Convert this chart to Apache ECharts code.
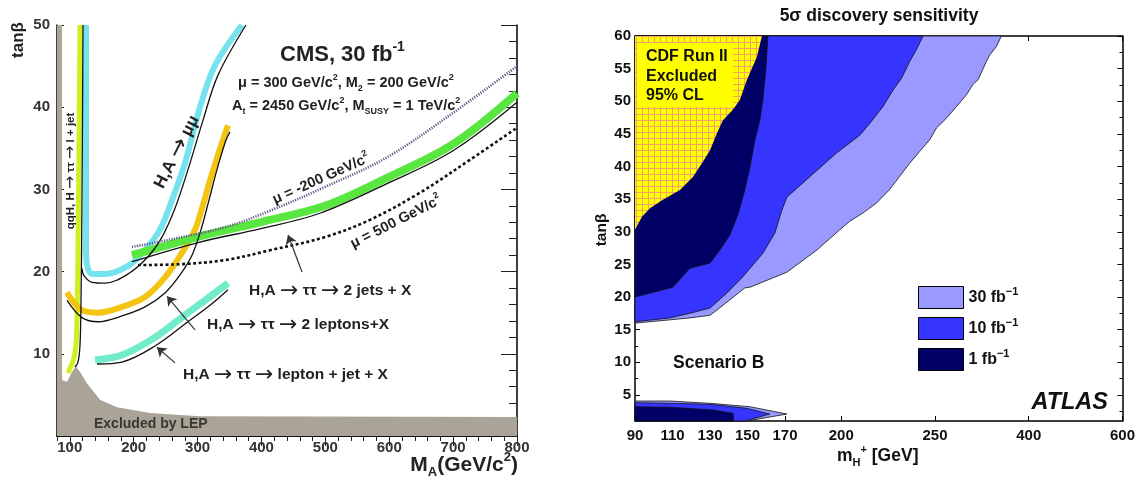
<!DOCTYPE html>
<html><head><meta charset="utf-8">
<script src="https://cdn.jsdelivr.net/npm/echarts@6/dist/echarts.min.js"></script>
<style>html,body{margin:0;padding:0;background:#fff}#c{width:1138px;height:481px}</style>
</head><body><div id="c"></div>
<script>
// ================= LEFT PANEL (CMS) : [M_A, tanBeta] =================
const lepM = [80, 87.8, 87.8, 95.7, 103.5, 109.7, 116, 127, 147.3, 173.9, 225.6, 303.8, 800];
const lepT = [50, 50, 6.8, 6.6, 7.8, 8.5, 7.8, 6.4, 4.4, 3.5, 2.8, 2.4, 2.3];
const qqhM = [97.2, 101.9, 106.6, 109.7, 111.3, 112.9, 114.4, 116.0];
const qqhT = [7.66, 8.52, 9.49, 11.07, 14.1, 22.6, 34.8, 50];
const qqhBM = [108.2, 112.9, 116.0, 117.6, 119.1, 120.7];
const qqhBT = [8.39, 9.0, 11.07, 16.5, 28.7, 50];
const mumuM = [125.4, 125.4, 127.0, 134.8, 155.1, 191.1, 217.7, 241.2, 260.0, 280.3, 303.8, 327.3, 369.6];
const mumuT = [50, 22.6, 20.8, 19.7, 19.7, 20.7, 22.6, 25.1, 28.7, 33.2, 40.0, 45.1, 50];
const mumuBM = [119.1, 122.3, 134.8, 155.1, 191.1, 222.4, 244.3, 264.7, 285.0, 308.5, 332.0, 375.8];
const mumuBT = [20.4, 19.5, 18.7, 18.6, 19.7, 21.8, 24.2, 27.7, 32.4, 38.4, 43.9, 50];
const llM = [95.7, 106.6, 119.1, 144.2, 181.7, 217.7, 249.0, 275.7, 296.0, 308.5, 319.5, 332.0, 347.6];
const llT = [17.5, 16.2, 15.3, 15.0, 15.7, 16.9, 19.3, 22.3, 25.1, 28.1, 31.1, 34.2, 37.8];
const llBM = [95.7, 119.1, 144.2, 181.7, 217.7, 249.0, 272.5, 291.3, 305.4, 317.9, 330.4, 344.5, 350.8];
const llBT = [16.5, 14.4, 13.9, 14.6, 15.7, 17.4, 19.6, 22.0, 25.1, 28.7, 32.4, 36.0, 37.0];
const ljM = [139.5, 181.7, 233.4, 285.0, 311.6, 347.6];
const ljT = [9.25, 9.85, 12.0, 15.0, 16.5, 18.6];
const ljBM = [142.6, 181.7, 233.4, 285.0, 319.5, 347.6];
const ljBT = [8.76, 9.0, 10.95, 13.9, 15.9, 17.8];
const jjM = [197.4, 303.8, 397.7, 499.5, 596.5, 699.8, 800];
const jjT = [22.0, 24.3, 26.0, 28.0, 31.4, 35.5, 41.7];
const jjBM = [197.4, 303.8, 397.7, 491.6, 596.5, 699.8, 800];
const jjBT = [21.2, 23.6, 25.2, 27.1, 30.7, 34.7, 40.6];
const muNegM = [197.4, 238.1, 343.0, 416.5, 499.5, 596.5, 699.8, 800];
const muNegT = [23.0, 23.6, 25.4, 27.5, 30.3, 33.9, 39.3, 45.0];
const mu500M = [206.8, 272.5, 343.0, 413.4, 499.5, 569.9, 648.2, 726.4, 800];
const mu500T = [20.8, 20.9, 21.4, 22.6, 24.2, 26.3, 29.6, 33.6, 37.5];
const leftXLabels = [100, 200, 300, 400, 500, 600, 700, 800];

// ================= RIGHT PANEL (ATLAS) : [m_H+, tanBeta] =================
const r30UpM = [356.2, 348.4, 337.6, 332.2, 319, 310.9, 300.4, 284.5, 268.3, 252.4, 247.2, 241.8, 236.5, 231.2, 225.9, 218.8, 211.7, 204.5, 199.2, 187.0, 171.0, 151.3, 148.6, 133.7, 130.0, 119.3, 108.6, 90, 90];
const r30UpT = [60, 58.4, 57.1, 56.1, 53.3, 52.6, 51.0, 49.2, 47.4, 45.9, 44.1, 42.3, 40.5, 38.5, 36.5, 34.4, 32.9, 31.6, 30.3, 27.2, 23.8, 21.5, 21.4, 18.0, 17.2, 16.8, 16.5, 16.0, 60];
const r30LoM = [90, 108.6, 130, 151.3, 171, 149.7, 90];
const r30LoT = [4.06, 4.06, 3.71, 3.19, 2.07, 1.0, 1.0];
const r10UpM = [243.6, 240.1, 236.5, 232.1, 227.6, 222.3, 215.2, 209.9, 204.5, 197.6, 171, 168.3, 164.6, 158.2, 147.5, 139, 130, 119.3, 108.6, 90, 90];
const r10UpT = [60, 57.9, 56.1, 53.5, 51.7, 49.2, 46.6, 44.8, 43.6, 42.1, 35.3, 33.3, 29.8, 26.7, 23.1, 20.6, 18.3, 17.5, 16.8, 16.2, 60];
const r10LoM = [90, 110.2, 130, 149.7, 161.9, 148.6, 90];
const r10LoT = [3.8, 3.71, 3.55, 2.94, 2.07, 1.0, 1.0];
const r1UpM = [160.9, 159.8, 158.2, 156.6, 154.0, 151.3, 148.6, 144.9, 140.6, 135.3, 130, 119.3, 110.2, 90, 90];
const r1UpT = [60, 54.8, 50.2, 47.1, 44.1, 39.9, 36.4, 32.6, 29.5, 27.2, 25.2, 24.4, 21.5, 20, 60];
const r1LoM = [90, 108.6, 131.6, 142.2, 142.7, 90];
const r1LoT = [3.19, 3.1, 2.7, 2.2, 1.0, 1.0];
const cdfM = [90, 93.7, 98.0, 104.9, 114.0, 120.9, 125.7, 130.0, 133.7, 136.9, 142.2, 145.9, 149.7, 155.0, 157.7, 90];
const cdfT = [30.3, 32.3, 33.6, 34.9, 36.4, 38.4, 40.5, 42.5, 45.1, 47.1, 48.7, 50.2, 53.3, 56.8, 60, 60];
const rightXLabels = [90, 110, 130, 150, 170, 200, 250, 400, 600];
const rightYLabels = [5, 10, 15, 20, 25, 30, 35, 40, 45, 50, 55, 60];

// piecewise mass scale of the ATLAS x axis
function ax(m) { return m <= 250 ? m : (m <= 400 ? 250 + (m - 250) / 3 : 300 + (m - 400) / 4); }
function axInv(a) { return a <= 250 ? a : (a <= 300 ? 250 + (a - 250) * 3 : 400 + (a - 300) * 4); }

const FF = '"Liberation Sans", Arial, Helvetica, sans-serif';
const FA = '"DejaVu Sans", sans-serif';
const pairs = (xs, ys) => xs.map((x, i) => [x, ys[i]]);

function richG(size, c) {
  const s2 = Math.round(size * 0.64);
  const lh = Math.round(size * 1.35);
  return {
    b: {fontSize: size, fontWeight: 'bold', fontFamily: FF, fill: c, lineHeight: lh, verticalAlign: 'middle'},
    s: {fontSize: s2, fontWeight: 'bold', fontFamily: FF, fill: c, lineHeight: s2, verticalAlign: 'top'},
    d: {fontSize: s2, fontWeight: 'bold', fontFamily: FF, fill: c, lineHeight: s2, verticalAlign: 'bottom'},
    m: {fontSize: s2, fontWeight: 'bold', fontFamily: FF, fill: c, lineHeight: Math.round(size * 0.9), verticalAlign: 'top'},
    a: {fontSize: Math.round(size * 1.4), fontWeight: 'normal', fontFamily: FA, fill: c, lineHeight: lh, verticalAlign: 'middle'}
  };
}
function txt(x, y, text, size, o) {
  o = o || {};
  const c = o.c || '#111';
  return {type: 'text', x: x, y: y, rotation: o.rot || 0, z: 100, silent: true,
    style: {text: text, fontSize: size, fontWeight: 'bold', fontStyle: o.it ? 'italic' : 'normal', fontFamily: FF, fill: c,
      align: o.al || 'left', verticalAlign: 'middle', textAlign: o.al || 'left', textVerticalAlign: 'middle',
      rich: o.rich ? richG(size, c) : undefined}};
}

// hatch pattern for CDF excluded region
const hatch = document.createElement('canvas');
hatch.width = 6; hatch.height = 6;
(function () {
  const g = hatch.getContext('2d');
  g.fillStyle = '#ffff00'; g.fillRect(0, 0, 6, 6);
  g.fillStyle = '#f3a06a'; g.fillRect(0, 0, 6, 1); g.fillRect(0, 0, 1, 6);
})();

function lineS(name, xs, ys, color, width, extra) {
  return Object.assign({type: 'line', name: name, xAxisIndex: 0, yAxisIndex: 0, data: pairs(xs, ys),
    showSymbol: false, symbol: 'none', smooth: 0.35, silent: true,
    lineStyle: {color: color, width: width}}, extra || {});
}

function polySeries(name, polys, fill, stroke) {
  return {type: 'custom', name: name, xAxisIndex: 3, yAxisIndex: 3, silent: true,
    itemStyle: {color: fill, borderColor: '#000', borderWidth: 1},
    data: polys.map((p, i) => [100, 30, i]),
    encode: {x: 0, y: 1},
    renderItem: function (params, api) {
      const p = polys[api.value(2)];
      const pts = p.m.map((m, k) => api.coord([ax(m), p.t[k]]));
      return {type: 'polygon', shape: {points: pts},
        style: {fill: name === 'cdf' ? {image: hatch, repeat: 'repeat'} : fill, stroke: stroke, lineWidth: 0.8}};
    }};
}

const axLineL = {show: true, lineStyle: {color: '#000', width: 1.5}};
const lblL = {color: '#333', fontWeight: 'bold', fontSize: 15, fontFamily: FF};
const lblR = {color: '#111', fontWeight: 'bold', fontSize: 15, fontFamily: FF};
const noSplit = {show: false};

const arrowEnd = c => ({coord: c, symbol: 'arrow', symbolSize: 9});
const arrowStart = c => ({coord: c, symbol: 'none', symbolSize: 0});

const option = {
  animation: false,
  backgroundColor: '#fff',
  grid: [
    {left: 57, top: 25, width: 460, height: 411},
    {left: 635, top: 36, width: 488, height: 385}
  ],
  xAxis: [
    {gridIndex: 0, type: 'value', min: 80, max: 800, interval: 20, position: 'bottom', axisLine: axLineL,
      axisTick: {show: true, inside: false, length: 3, lineStyle: {color: '#333'}},
      axisLabel: Object.assign({margin: 4, formatter: v => leftXLabels.indexOf(v) >= 0 ? String(v) : ''}, lblL), splitLine: noSplit},
    {gridIndex: 0, type: 'value', min: 80, max: 800, interval: 20, position: 'top', axisLine: axLineL,
      axisTick: {show: true, inside: true, length: 5, lineStyle: {color: '#222'}}, axisLabel: {show: false}, splitLine: noSplit},
    {gridIndex: 0, type: 'value', min: 80, max: 800, position: 'top', axisLine: {show: false},
      axisTick: {show: true, inside: true, length: 10, customValues: leftXLabels, lineStyle: {color: '#222'}},
      axisLabel: {show: false, customValues: leftXLabels}, splitLine: noSplit},
    {gridIndex: 1, type: 'value', min: 90, max: 350, position: 'bottom', axisLine: axLineL,
      axisTick: {show: true, inside: true, length: 5, customValues: rightXLabels.map(ax), lineStyle: {color: '#000'}},
      axisLabel: Object.assign({margin: 7, customValues: rightXLabels.map(ax), formatter: v => String(Math.round(axInv(v)))}, lblR), splitLine: noSplit},
    {gridIndex: 1, type: 'value', min: 90, max: 350, position: 'top', axisLine: axLineL,
      axisTick: {show: true, inside: true, length: 5, customValues: rightXLabels.map(ax), lineStyle: {color: '#000'}},
      axisLabel: {show: false, customValues: rightXLabels.map(ax)}, splitLine: noSplit}
  ],
  yAxis: [
    {gridIndex: 0, type: 'value', min: 0, max: 50, interval: 10, position: 'left', axisLine: axLineL,
      axisTick: {show: true, inside: true, length: 7, lineStyle: {color: '#222'}},
      axisLabel: Object.assign({margin: 7, showMinLabel: false, formatter: v => v === 0 ? '' : String(v)}, lblL), splitLine: noSplit},
    {gridIndex: 0, type: 'value', min: 0, max: 50, interval: 2, position: 'right', axisLine: axLineL,
      axisTick: {show: true, inside: true, length: 8, lineStyle: {color: '#222'}}, axisLabel: {show: false}, splitLine: noSplit},
    {gridIndex: 0, type: 'value', min: 0, max: 50, interval: 10, position: 'right', axisLine: {show: false},
      axisTick: {show: true, inside: true, length: 16, lineStyle: {color: '#222'}}, axisLabel: {show: false}, splitLine: noSplit},
    {gridIndex: 1, type: 'value', min: 1, max: 60, position: 'left', axisLine: axLineL,
      axisTick: {show: true, inside: true, length: 5, customValues: rightYLabels, lineStyle: {color: '#000'}},
      axisLabel: Object.assign({margin: 4, customValues: rightYLabels}, lblR), splitLine: noSplit},
    {gridIndex: 1, type: 'value', min: 1, max: 60, position: 'left', axisLine: {show: false},
      axisTick: {show: true, inside: true, length: 3, customValues: rightYLabels.map(v => v - 2.5), lineStyle: {color: '#000'}},
      axisLabel: {show: false, customValues: rightYLabels.map(v => v - 2.5)}, splitLine: noSplit},
    {gridIndex: 1, type: 'value', min: 1, max: 60, position: 'right', axisLine: axLineL,
      axisTick: {show: true, inside: true, length: 5, customValues: rightYLabels, lineStyle: {color: '#000'}},
      axisLabel: {show: false, customValues: rightYLabels}, splitLine: noSplit},
    {gridIndex: 1, type: 'value', min: 1, max: 60, position: 'right', axisLine: {show: false},
      axisTick: {show: true, inside: true, length: 3, customValues: rightYLabels.map(v => v - 2.5), lineStyle: {color: '#000'}},
      axisLabel: {show: false, customValues: rightYLabels.map(v => v - 2.5)}, splitLine: noSplit}
  ],
  legend: {
    show: true, orient: 'vertical', left: 913, top: 281, itemWidth: 45, itemHeight: 22, itemGap: 8,
    icon: 'rect', selectedMode: false,
    data: ['30', '10', '1'],
    itemStyle: {borderColor: '#000', borderWidth: 1},
    formatter: n => '{t|' + n + ' fb}{s|\u22121}',
    textStyle: {rich: {
      t: {fontSize: 16, fontWeight: 'bold', fontFamily: FF, color: '#111', lineHeight: 22, verticalAlign: 'middle'},
      s: {fontSize: 11, fontWeight: 'bold', fontFamily: FF, color: '#111', lineHeight: 12, verticalAlign: 'top'}
    }}
  },
  series: [
    lineS('lep', lepM, lepT, '#a9a398', 0, {smooth: false, areaStyle: {color: '#a9a398', opacity: 1}, z: 1}),
    lineS('qqh', qqhM, qqhT, '#d2ee1e', 5),
    lineS('mumu', mumuM, mumuT, '#74e3ee', 6),
    lineS('ll', llM, llT, '#f3c512', 6),
    lineS('lj', ljM, ljT, '#72ebca', 7),
    lineS('jj', jjM, jjT, '#5ae640', 8),
    lineS('qqhB', qqhBM, qqhBT, '#111', 1.3),
    lineS('mumuB', mumuBM, mumuBT, '#111', 1.3),
    lineS('llB', llBM, llBT, '#111', 1.3),
    lineS('ljB', ljBM, ljBT, '#111', 1.3),
    lineS('jjB', jjBM, jjBT, '#111', 1.3),
    lineS('muNeg', muNegM, muNegT, '#66598a', 2.6, {lineStyle: {color: '#66598a', width: 2.6, type: [1.2, 1.3]}}),
    lineS('mu500', mu500M, mu500T, '#111', 2.6, {lineStyle: {color: '#111', width: 2.6, type: [3, 2.5]}}),
    {type: 'line', name: 'arrows', xAxisIndex: 0, yAxisIndex: 0, data: [], silent: true,
      markLine: {silent: true, animation: false, symbol: ['none', 'arrow'], symbolSize: 9, label: {show: false},
        lineStyle: {color: '#333', width: 1.2, type: 'solid'},
        data: [
          [arrowStart([463.5, 19.95]), arrowEnd([441.6, 24.45])],
          [arrowStart([296.0, 12.9]), arrowEnd([252.2, 17.0])],
          [arrowStart([264.7, 8.9]), arrowEnd([236.5, 10.8])]
        ]}},
    polySeries('30', [{m: r30UpM, t: r30UpT}, {m: r30LoM, t: r30LoT}], '#9999ff', '#111'),
    polySeries('10', [{m: r10UpM, t: r10UpT}, {m: r10LoM, t: r10LoT}], '#3535ff', '#111'),
    polySeries('1', [{m: r1UpM, t: r1UpT}, {m: r1LoM, t: r1LoT}], '#000066', '#111'),
    polySeries('cdf', [{m: cdfM, t: cdfT}], '#ffff00', 'none')
  ],
  graphic: [
    // left panel texts
    txt(18, 40, 'tan\u03b2', 17, {rot: Math.PI / 2, al: 'center', c: '#222'}),
    txt(71, 171, '{b|qqH, H }{a|\u2192}{b| \u03c4\u03c4 }{a|\u2192}{b| l + jet}', 11.5, {rich: true, rot: Math.PI / 2, al: 'center', c: '#222'}),
    txt(177, 152, '{b|H,A }{a|\u2192}{b| \u03bc\u03bc}', 17, {rich: true, rot: 1.10, al: 'center', c: '#222'}),
    txt(280, 55, '{b|CMS, 30 fb}{s|-1}', 22, {rich: true, c: '#222'}),
    txt(238, 83, '{b|\u03bc = 300 GeV/c}{s|2}{b|, M}{d|2}{b| = 200 GeV/c}{s|2}', 14.5, {rich: true, c: '#222'}),
    txt(232, 106, '{b|A}{d|t}{b| = 2450 GeV/c}{s|2}{b|, M}{d|SUSY}{b| = 1 TeV/c}{s|2}', 14.5, {rich: true, c: '#222'}),
    txt(321, 179, '{b|\u03bc = -200 GeV/c}{s|2}', 14.5, {rich: true, rot: 0.42, al: 'center', c: '#222'}),
    txt(396, 222, '{b|\u03bc = 500 GeV/c}{s|2}', 14.5, {rich: true, rot: 0.47, al: 'center', c: '#222'}),
    txt(249, 291, '{b|H,A }{a|\u2192}{b| \u03c4\u03c4 }{a|\u2192}{b| 2 jets + X}', 15.5, {rich: true, c: '#222'}),
    txt(207, 325, '{b|H,A }{a|\u2192}{b| \u03c4\u03c4 }{a|\u2192}{b| 2 leptons+X}', 15.5, {rich: true, c: '#222'}),
    txt(183, 375, '{b|H,A }{a|\u2192}{b| \u03c4\u03c4 }{a|\u2192}{b| lepton + jet + X}', 15.5, {rich: true, c: '#222'}),
    txt(94, 424, 'Excluded by LEP', 14, {c: '#3a3630'}),
    txt(518, 465, '{b|M}{d|A}{b|(GeV/c}{s|2}{b|)}', 21, {rich: true, al: 'right', c: '#222'}),
    // right panel texts
    txt(879, 16, '5\u03c3 discovery sensitivity', 17.5, {al: 'center'}),
    txt(602, 230, 'tan\u03b2', 15.5, {rot: Math.PI / 2, al: 'center'}),
    {type: 'rect', z: 90, silent: true, shape: {x: 637, y: 43, width: 96, height: 64}, style: {fill: '#ffff00'}},
    txt(646, 57, 'CDF Run II', 16),
    txt(646, 77, 'Excluded', 16),
    txt(646, 96, '95% CL', 16),
    txt(673, 363, 'Scenario B', 17.5),
    txt(1108, 403, 'ATLAS', 23.5, {al: 'right', it: true}),
    txt(837, 456, '{b|m}{d|H}{m|+}{b| [GeV]}', 17.5, {rich: true})
  ]
};

const chart = echarts.init(document.getElementById('c'), null, {renderer: 'canvas'});
chart.setOption(option);
</script>
</body></html>
